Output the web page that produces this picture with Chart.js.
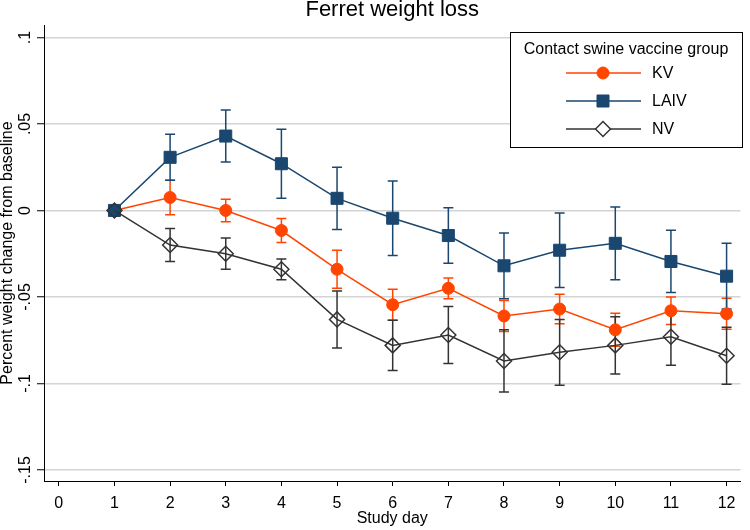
<!DOCTYPE html>
<html>
<head>
<meta charset="utf-8">
<script src="https://cdn.jsdelivr.net/npm/chart.js@4.4.0/dist/chart.umd.min.js"></script>
<style>
    html, body { margin: 0; padding: 0; background: #fff; }
</style>
</head>
<body>
<canvas id="chart" width="750" height="530"></canvas>
<script>
// data
var days = [1, 2, 3, 4, 5, 6, 7, 8, 9, 10, 11, 12];
var seriesNames = ['KV', 'LAIV', 'NV'];
var kvMean = [0, 0.0075, 0, -0.0116, -0.034, -0.0545, -0.045, -0.061, -0.057, -0.069, -0.058, -0.0597];
var kvErr = [0, 0.010, 0.0065, 0.007, 0.011, 0.009, 0.006, 0.009, 0.0085, 0.0095, 0.008, 0.009];
var laivMean = [0, 0.0307, 0.043, 0.027, 0.007, -0.0045, -0.0145, -0.032, -0.023, -0.019, -0.0295, -0.038];
var laivErr = [0, 0.0133, 0.015, 0.020, 0.018, 0.0215, 0.016, 0.019, 0.0215, 0.021, 0.018, 0.019];
var nvMean = [0, -0.020, -0.025, -0.034, -0.063, -0.078, -0.072, -0.087, -0.082, -0.078, -0.073, -0.084];
var nvErr = [0, 0.0095, 0.009, 0.006, 0.0165, 0.0145, 0.0165, 0.018, 0.019, 0.0165, 0.0165, 0.0165];
var xTicks = [0, 1, 2, 3, 4, 5, 6, 7, 8, 9, 10, 11, 12];
var yTicks = [0.1, 0.05, 0, -0.05, -0.1, -0.15];
var yTickLabels = ['.1', '.05', '0', '-.05', '-.1', '-.15'];

Chart.defaults.font.family = '"Liberation Sans", Arial, sans-serif';
Chart.defaults.color = '#000';

function points(values) {
    return days.map(function (d, i) { return { x: d, y: values[i] }; });
}

// vertical capped bars from each point
var errorBars = {
    id: 'errorBars',
    beforeDatasetsDraw: function (chart) {
        var ctx = chart.ctx, xs = chart.scales.x, ys = chart.scales.y;
        chart.data.datasets.forEach(function (ds) {
            ctx.save();
            ctx.strokeStyle = ds.borderColor;
            ctx.lineWidth = 1.5;
            ds.data.forEach(function (p, i) {
                var e = ds.errors[i];
                if (!e) return;
                var px = xs.getPixelForValue(p.x);
                var top = ys.getPixelForValue(p.y + e);
                var bot = ys.getPixelForValue(p.y - e);
                ctx.beginPath();
                ctx.moveTo(px, top); ctx.lineTo(px, bot);
                ctx.moveTo(px - 5, top); ctx.lineTo(px + 5, top);
                ctx.moveTo(px - 5, bot); ctx.lineTo(px + 5, bot);
                ctx.stroke();
            });
            ctx.restore();
        });
    }
};

// boxed legend in the upper right, stata style
var boxLegend = {
    id: 'boxLegend',
    afterDraw: function (chart) {
        var ctx = chart.ctx;
        var left = 510, top = 32, right = 742, bottom = 147;
        ctx.save();
        ctx.fillStyle = '#fff';
        ctx.fillRect(left, top, right - left, bottom - top);
        ctx.strokeStyle = '#000';
        ctx.lineWidth = 1;
        ctx.strokeRect(left + 0.5, top + 0.5, right - left, bottom - top);
        ctx.fillStyle = '#000';
        ctx.font = '16px "Liberation Sans", Arial, sans-serif';
        ctx.textAlign = 'center';
        ctx.textBaseline = 'middle';
        ctx.fillText('Contact swine vaccine group', (left + right) / 2, 50);
        chart.data.datasets.forEach(function (ds, i) {
            var y = 73 + i * 28;
            ctx.strokeStyle = ds.borderColor;
            ctx.lineWidth = 1.5;
            ctx.beginPath();
            ctx.moveTo(566, y); ctx.lineTo(641, y);
            ctx.stroke();
            // hollow markers show white in the key
            ctx.fillStyle = ds.pointBackgroundColor === 'rgba(0,0,0,0)' ? '#fff' : ds.pointBackgroundColor;
            ctx.strokeStyle = ds.pointBorderColor;
            ctx.lineWidth = ds.pointBorderWidth;
            Chart.helpers.drawPoint(ctx, {
                pointStyle: ds.pointStyle, radius: ds.pointRadius, rotation: 0,
                borderWidth: ds.pointBorderWidth
            }, 603, y);
            ctx.fillStyle = '#000';
            ctx.textAlign = 'left';
            ctx.fillText(ds.label, 652, y + 1);
        });
        ctx.restore();
    }
};

var ctx = document.getElementById('chart').getContext('2d');
var chart = new Chart(ctx, {
    type: 'line',
    data: {
        datasets: [{
            label: seriesNames[0],
            data: points(kvMean),
            errors: kvErr,
            borderColor: '#ff4500',
            borderWidth: 1.5,
            pointStyle: 'circle',
            pointRadius: 6,
            pointBackgroundColor: '#ff4500',
            pointBorderColor: '#ff4500',
            pointBorderWidth: 1,
            order: 3
        }, {
            label: seriesNames[1],
            data: points(laivMean),
            errors: laivErr,
            borderColor: '#1a476f',
            borderWidth: 1.5,
            pointStyle: 'rect',
            pointRadius: 8.5,
            pointBackgroundColor: '#1a476f',
            pointBorderColor: '#1a476f',
            pointBorderWidth: 1,
            order: 2
        }, {
            label: seriesNames[2],
            data: points(nvMean),
            errors: nvErr,
            borderColor: '#333333',
            borderWidth: 1.5,
            pointStyle: 'rectRot',
            pointRadius: 7.5,
            pointBackgroundColor: 'rgba(0,0,0,0)',
            pointBorderColor: '#333333',
            pointBorderWidth: 1.5,
            order: 1
        }]
    },
    options: {
        responsive: false,
        animation: false,
        layout: { padding: 0 },
        plugins: {
            legend: { display: false },
            tooltip: { enabled: false },
            title: {
                display: true,
                text: 'Ferret weight loss',
                fullSize: false,
                color: '#000',
                font: { size: 22, weight: 'normal' },
                padding: { top: -3.2, bottom: 1.8 }
            }
        },
        scales: {
            x: {
                type: 'linear',
                min: -0.266,
                max: 12.25,
                afterBuildTicks: function (scale) {
                    scale.ticks = xTicks.map(function (v) { return { value: v }; });
                },
                afterFit: function (scale) { scale.height = 49; },
                ticks: {
                    font: { size: 16 },
                    color: '#000',
                    padding: 8,
                    maxRotation: 0,
                    autoSkip: false
                },
                grid: {
                    drawOnChartArea: false,
                    drawTicks: true,
                    tickLength: 5,
                    tickColor: '#000',
                    tickWidth: 1
                },
                border: { display: true, color: '#000', width: 1 },
                title: {
                    display: true,
                    text: 'Study day',
                    font: { size: 16 },
                    color: '#000',
                    padding: { top: 0, bottom: 1.5 }
                }
            },
            y: {
                type: 'linear',
                min: -0.1564,
                max: 0.1072,
                afterBuildTicks: function (scale) {
                    scale.ticks = yTicks.map(function (v) { return { value: v }; });
                },
                afterFit: function (scale) { scale.width = 44; },
                ticks: {
                    font: { size: 16 },
                    color: '#000',
                    minRotation: 90,
                    maxRotation: 90,
                    crossAlign: 'center',
                    padding: -2,
                    autoSkip: false,
                    callback: function (value, index) { return yTickLabels[index]; }
                },
                grid: {
                    color: '#d4d4d4',
                    lineWidth: 1.5,
                    drawTicks: true,
                    tickLength: 7,
                    tickColor: '#000',
                    tickWidth: 1
                },
                border: { display: true, color: '#000', width: 1 },
                title: {
                    display: true,
                    text: 'Percent weight change from baseline',
                    font: { size: 16 },
                    color: '#000',
                    padding: { top: -1.6, bottom: 0 }
                }
            }
        }
    },
    plugins: [errorBars, boxLegend]
});
</script>
</body>
</html>
